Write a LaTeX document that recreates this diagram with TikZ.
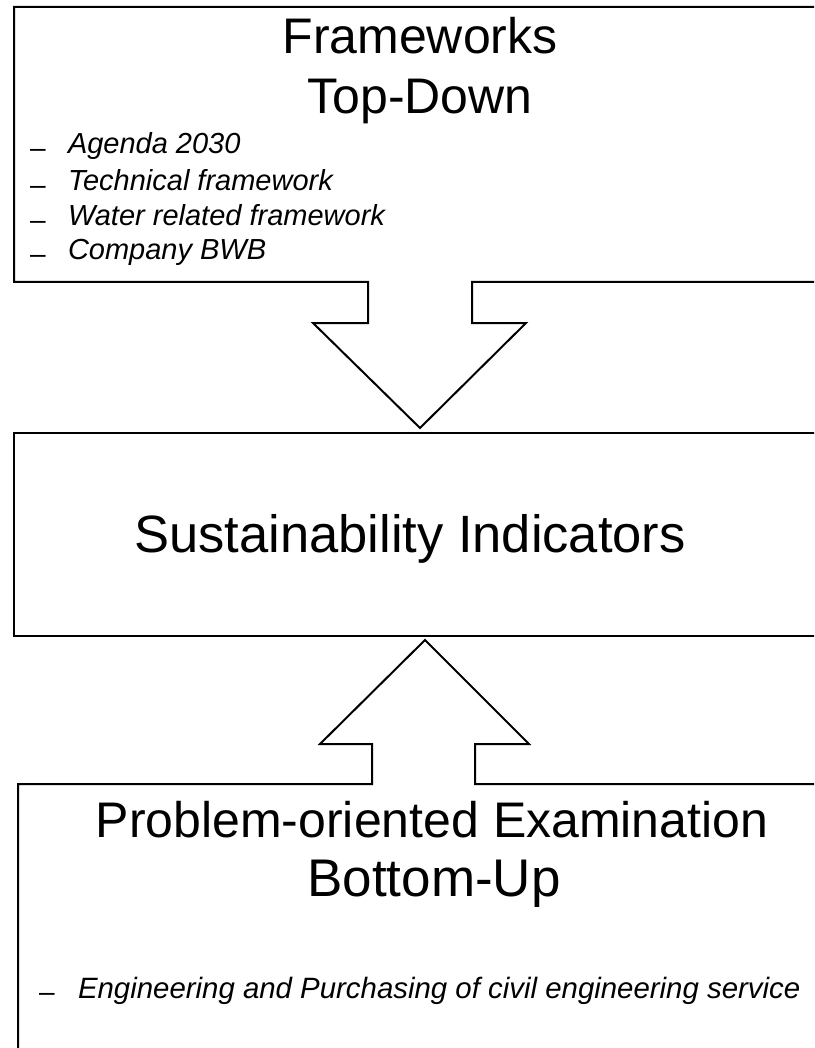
\documentclass[tikz,border=0pt]{standalone}
\usepackage{fontspec}
\setmainfont{Liberation Sans}
\begin{document}
\begin{tikzpicture}[x=1pt, y=-1pt, line cap=round, line join=miter, line width=2pt,
	titletext/.style={font=\fontsize{50}{60}\selectfont, anchor=base, inner sep=0pt},
	itemtext/.style={font=\fontsize{29}{35}\selectfont\itshape, anchor=base west, inner sep=0pt},
	itemdash/.style={font=\fontsize{28}{35}\selectfont, anchor=base west, inner sep=0pt}]
				\useasboundingbox (0,0) rectangle (814,1048);
				\clip (0,0) rectangle (814,1048);
				% top box, open below for the arrow
				\coordinate (A) at (14,7);
				\coordinate (B) at (830,7);
				\coordinate (C) at (830,282);
				\coordinate (D) at (14,282);
				\draw (C)--(472,282)--(472,323)--(526,323)--(420,428)--(313,323)--(368,323)--(368,282)--(D)--(A)--(B);
				% middle box
				\coordinate (M) at (14,433);
				\coordinate (N) at (830,636);
				\draw (M) rectangle (N);
				% bottom box, open above for the arrow
				\coordinate (P) at (18,1060);
				\coordinate (Q) at (18,784);
				\coordinate (R) at (830,784);
				\draw (P)--(Q)--(372,784)--(372,744)--(320,744)--(425,640)--(529,744)--(475,744)--(475,784)--(R);
				\node[titletext] (fw) at (420,54) {Frameworks};
				\node[titletext] (td) at (420,114) {Top-Down};
				\foreach \y/\t in {154/Agenda 2030, 191/Technical framework, 226/Water related framework, 260/Company BWB} {
					\node[itemdash] at (29,\y) {\raisebox{-3.5pt}{\textendash}};
					\node[itemtext] at (67,\y) {\t};
				}
				\node[titletext, font=\fontsize{52.5}{60}\selectfont] (si) at (410,552) {Sustainability Indicators};
				\node[titletext] (po) at (432,837) {Problem-oriented Examination};
				\node[titletext, font=\fontsize{53}{60}\selectfont] (bu) at (434,896) {Bottom-Up};
				\node[itemdash] at (38,998) {\raisebox{-3.5pt}{\textendash}};
				\node[itemtext, font=\fontsize{29.4}{35}\selectfont\itshape] (eng) at (77,998) {Engineering and Purchasing of civil engineering service};
			\end{tikzpicture}
\end{document}
